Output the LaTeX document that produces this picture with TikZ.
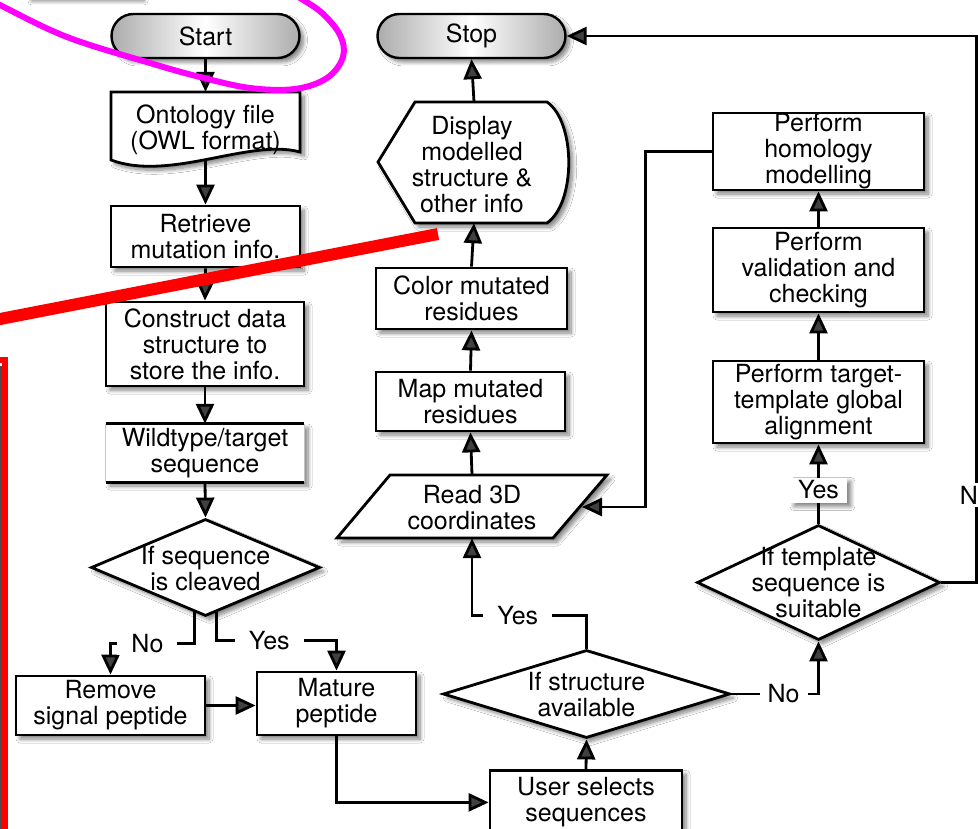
\documentclass[tikz,border=0pt]{standalone}
\usepackage{fontspec}
\setmainfont{TeX Gyre Heros}
\usetikzlibrary{arrows.meta,shadows.blur,calc,shapes.geometric}
\definecolor{markpink}{RGB}{255,0,255}
\definecolor{markred}{RGB}{255,0,0}
\begin{document}
\begin{tikzpicture}[x=1pt,y=-1pt,
  font=\fontsize{25}{26}\selectfont,
  sdw/.style={blur shadow={shadow xshift=4pt,shadow yshift=-4pt,shadow blur radius=4pt,shadow opacity=50,shadow blur steps=8}},
  outline/.style={draw,line width=2.8pt,fill=white,sdw},
  box/.style={outline,align=center,inner sep=0pt},
  pill/.style={draw,line width=2.4pt,rounded corners=22pt,minimum width=188pt,minimum height=44pt,
    left color=gray!65,right color=gray!65,middle color=white,sdw},
  hold/.style={inner sep=0pt,align=center},
  dec/.style={diamond,outline,inner sep=0pt},
  arr/.style={line width=2.8pt,-{Triangle[length=20pt,width=18pt]}},
  lbl/.style={fill=white,inner ysep=2pt}
]
\useasboundingbox (0,0) rectangle (978,829);
\clip (0,0) rectangle (978,829);
\fill[white] (0,0) rectangle (978,829);

% edge of a shape just above the frame
\path[fill=white,sdw] (28,-60) rectangle (140,-3);

% ---------- left column ----------
\node[pill] (start) at (205.5,36) {Start};

\path[outline] (111,92) -- (300,92) -- (300,152)
  .. controls (250,138) and (170,182) .. (111,160) -- cycle;
\node[hold,minimum width=189pt,minimum height=68pt] (onto) at (205.5,126) {};
\node[hold] at (205.5,130) {Ontology file\\(OWL format)};

\node[box,minimum width=189pt,minimum height=61pt] (retr) at (205.5,236.5) {Retrieve\\mutation info.};
\node[box,minimum width=198pt,minimum height=84pt] (cons) at (205,344) {Construct data\\structure to\\store the info.};

\node[hold,fill=white,sdw,minimum width=198pt,minimum height=58pt] (wild) at (205,453) {Wildtype/target\\sequence};
\draw[line width=2.8pt] (wild.north west) -- (wild.north east) (wild.south west) -- (wild.south east);
\draw[line width=1pt,gray!45] (wild.north west) -- (wild.south west) (wild.north east) -- (wild.south east);

\node[dec,minimum width=229pt,minimum height=97pt] (cleave) at (205.5,567.5) {};
\node[hold] at (205.5,569) {If sequence\\is cleaved};

\node[box,minimum width=189pt,minimum height=59pt] (remove) at (110.5,705.5) {Remove\\signal peptide};
\node[box,minimum width=159pt,minimum height=63pt] (mature) at (336.5,703.5) {Mature\\peptide};

% ---------- middle column ----------
\node[pill] (stop) at (471.5,36) {Stop};

\path[outline] (378,162) -- (415,102) -- (547,102)
  .. controls (576,122) and (576,203) .. (547,223) -- (415,223) -- cycle;
\node[hold,minimum width=192pt,minimum height=121pt] (disp) at (474,162.5) {};
\node[hold] at (472,165) {Display\\modelled\\structure \&\\other info};

\node[box,minimum width=191pt,minimum height=61pt] (color) at (471.5,298.5) {Color mutated\\residues};
\node[box,minimum width=189pt,minimum height=59pt] (map) at (470.5,401.5) {Map mutated\\residues};

\path[outline] (337,538) -- (390,475) -- (607,475) -- (553,538) -- cycle;
\node[hold,minimum width=270pt,minimum height=63pt] (read) at (472,506.5) {};
\node[hold] at (472,508) {Read 3D\\coordinates};
\coordinate (readin) at (582,507);

\node[dec,minimum width=287pt,minimum height=88pt] (struct) at (586.5,694) {};
\node[hold] at (586.5,695) {If structure\\available};

\node[box,minimum width=192pt,minimum height=64pt,anchor=north] (user) at (586,769) {User selects\\sequences};

% ---------- right column ----------
\node[box,minimum width=211pt,minimum height=77pt] (homol) at (818.5,151.5) {Perform\\homology\\modelling};
\node[box,minimum width=211pt,minimum height=84pt] (valid) at (818.5,270) {Perform\\validation and\\checking};
\node[box,minimum width=211pt,minimum height=82pt] (align) at (818.5,402) {Perform target-\\template global\\alignment};

\node[dec,minimum width=243pt,minimum height=115pt] (templ) at (818.5,582.5) {};
\node[hold] at (818.5,583) {If template\\sequence is\\suitable};

% ---------- connectors ----------
\draw[arr] (start.south) -- (onto.north);
\draw[arr] (onto.south) -- (retr.north);
\draw[arr] (retr.south) -- (cons.north);
\draw[arr] (cons.south) -- (wild.north);
\draw[arr] (wild.south) -- (cleave.north);

\draw[arr] ($(cleave.south)+(-11,-5)$) |- ($(remove.north)+(0,-31)$)
  node[lbl,inner xsep=14pt,pos=0.78] {No} -- (remove.north);
\draw[arr] ($(cleave.south)+(11,-5)$) |- ($(mature.north)+(0,-30)$)
  node[lbl,inner xsep=14pt,pos=0.72] {Yes} -- (mature.north);
\draw[arr] (remove.east) -- (remove.east -| mature.west);
\draw[arr] (mature.south) |- (user.west);

\draw[arr] (user.north) -- (struct.south);
\draw[arr] (struct.north) -- ++(0,-33) -| node[lbl,inner xsep=14pt,pos=0.3] {Yes} (read.south);
\draw[arr] (read.north) -- (map.south);
\draw[arr] (map.north) -- (color.south);
\draw[arr] (color.north) -- (disp.south);
\draw[arr] (disp.north) -- (stop.south);

\draw[arr] (struct.east) -| node[lbl,inner xsep=8pt,pos=0.3] {No} (templ.south);
\draw[arr] (templ.north) -- (align.south);
\node[fill=white,sdw,inner xsep=8pt,inner ysep=1pt,minimum height=25pt] (yes) at (818.5,490) {Yes};
\draw[arr] (align.north) -- (valid.south);
\draw[arr] (valid.north) -- (homol.south);
\draw[arr] (homol.west) -- ++(-66,0) |- (readin);
\draw[arr] (templ.east) -- ++(35,0) |- (stop.east);
\node[fill=white,inner xsep=2pt,inner ysep=3pt] (nolbl) at (969,495) {N};

% ---------- marks drawn over the chart ----------
\draw[markpink,line width=6pt] plot[smooth,tension=0.6] coordinates
  {(-20,-6) (0,5) (67,37) (150,63) (200,77) (250,88) (295,89) (327,78) (343,57) (340,35) (322,13) (300,-2) (280,-14)};
\draw[markred,line width=12pt] (-5,320) -- (438,234);
\draw[gray!60!black,line width=1.5pt] (1,366) -- (1,829);
\draw[markred,line width=6pt] (-30,360) rectangle (5,870);
\end{tikzpicture}
\end{document}
